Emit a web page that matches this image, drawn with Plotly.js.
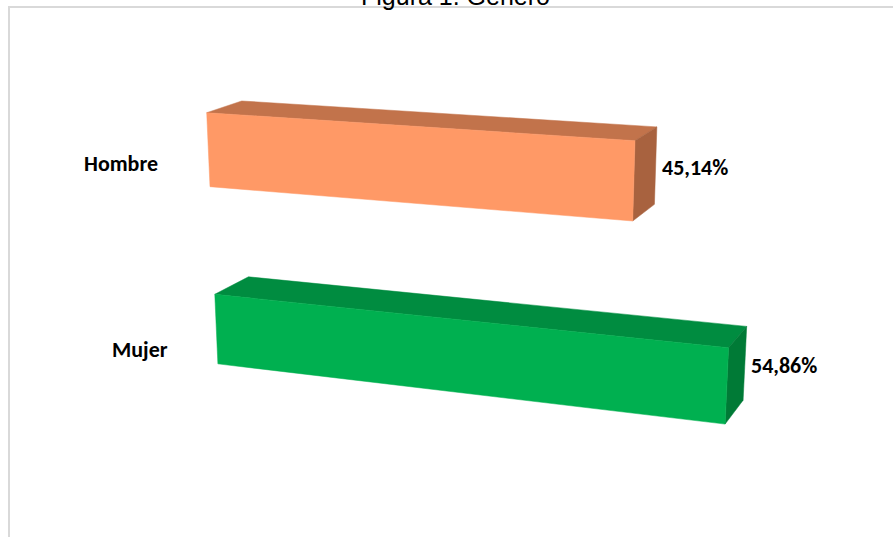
<!DOCTYPE html>
<html><head><meta charset="utf-8">
<script src="https://cdn.plot.ly/plotly-3.0.1.min.js"></script>
<style>html,body{margin:0;padding:0;background:#fff;overflow:hidden}</style>
</head><body><div id="chart" style="width:893px;height:537px"></div>
<script>
const categories = ["Hombre", "Mujer"];
const values = [45.14, 54.86];
const valueLabels = ["45,14%", "54,86%"];
const chartTitle = "Figura 1. Género";

const faceColors = [
  {front: "#FF9966", top: "#C2734B", side: "#A8623F"},
  {front: "#00B050", top: "#008C40", side: "#007A36"}
];
// perspective camera (projective transform of the 3D bar space)
const cam = {h11: 8.309, h12: 5.95, h13: 206.7, h14: 43.69,
             h21: 0.3591, h22: 76.36, h23: 112.7, h24: -8.09,
             h31: -0.001856, h32: 0.01264, h34: 0.03596};
const BAR = 1, GAP = 1.5, DEPTH = 1;

function proj(u, Y, Z) {
  const w = cam.h31 * u + cam.h32 * Y + cam.h34 * Z + 1;
  return [(cam.h11 * u + cam.h12 * Y + cam.h14 * Z + cam.h13) / w,
          (cam.h21 * u + cam.h22 * Y + cam.h24 * Z + cam.h23) / w];
}
function face(pts, color) {
  const p = pts.map(q => proj(q[0], q[1], q[2]));
  p.push(p[0]);
  return {type: 'scatter', mode: 'lines', x: p.map(a => a[0]), y: p.map(a => a[1]),
          fill: 'toself', fillcolor: color, line: {color: color, width: 0.5},
          hoverinfo: 'skip', showlegend: false};
}

const traces = [];
const annotations = [];
const lblFont = {family: "Carlito, Lato, 'Liberation Sans', sans-serif", size: 22, color: '#000'};
categories.forEach((cat, i) => {
  const v = values[i];
  const y0 = i * (BAR + GAP), y1 = y0 + BAR;
  const c = faceColors[i];
  traces.push(face([[0, y0, 0], [v, y0, 0], [v, y0, DEPTH], [0, y0, DEPTH]], c.top));
  traces.push(face([[v, y0, 0], [v, y0, DEPTH], [v, y1, DEPTH], [v, y1, 0]], c.side));
  traces.push(face([[0, y0, 0], [v, y0, 0], [v, y1, 0], [0, y1, 0]], c.front));
  const cp = proj(0, y0 + 0.5 * BAR, -DEPTH);
  annotations.push({xref: 'x', yref: 'y', x: cp[0] - 11, y: cp[1], xanchor: 'right', yanchor: 'middle',
                    text: '<b>' + cat + '</b>', showarrow: false, font: lblFont});
  const vp = proj(v, y0 + 0.5 * BAR, DEPTH);
  annotations.push({xref: 'x', yref: 'y', x: vp[0] + 4, y: vp[1] + 1.5, xanchor: 'left', yanchor: 'middle',
                    text: '<b>' + valueLabels[i] + '</b>', showarrow: false, font: lblFont});
});
annotations.push({xref: 'paper', yref: 'paper', x: 456 / 893, y: 1 + 4 / 537, xanchor: 'center', yanchor: 'middle',
                  text: chartTitle, showarrow: false,
                  font: {family: "'Liberation Sans', Arial, sans-serif", size: 25, color: '#000'}});

const layout = {
  width: 893, height: 537, margin: {l: 0, r: 0, t: 0, b: 0},
  paper_bgcolor: '#fff', plot_bgcolor: '#fff',
  xaxis: {range: [0, 893], visible: false, fixedrange: true},
  yaxis: {range: [537, 0], visible: false, fixedrange: true},
  annotations: annotations,
  shapes: [{type: 'rect', xref: 'paper', yref: 'paper', x0: 9 / 893, x1: 1.05, y0: -0.05, y1: 1 - 7 / 537,
            line: {color: '#D9D9D9', width: 2}, fillcolor: 'rgba(0,0,0,0)'}],
  showlegend: false
};
Plotly.newPlot('chart', traces, layout, {staticPlot: true, displayModeBar: false});
</script></body></html>
